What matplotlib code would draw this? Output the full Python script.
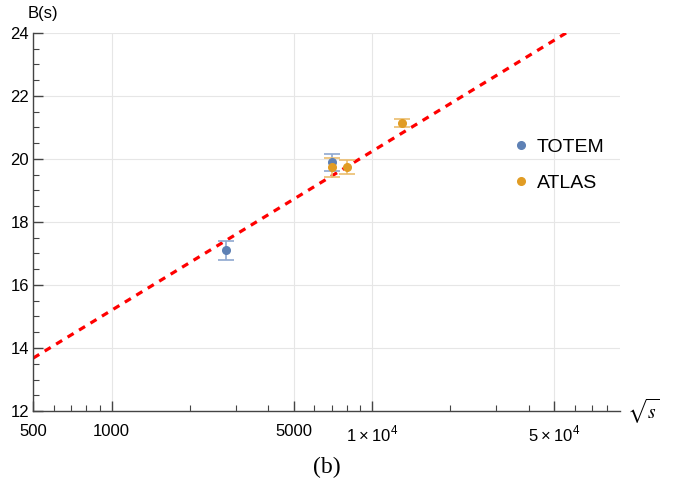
import numpy as np
import matplotlib.pyplot as plt
from matplotlib.ticker import FixedLocator, FixedFormatter, MultipleLocator

# data
totem_x = [2760, 7000]
totem_y = [17.1, 19.89]
totem_err = [0.3, 0.27]

atlas_x = [7000, 8000, 13000]
atlas_y = [19.73, 19.74, 21.14]
atlas_err = [0.29, 0.22, 0.13]

# fit line: B = fit_ref + fit_b1*log10(sqrt(s)/500)
fit_b1 = 5.04
fit_ref = 13.68

xticks = [500, 1000, 5000, 10000, 50000]
xticklabels = ['500', '1000', '5000', r'$1\times10^4$', r'$5\times10^4$']

blue = '#5E81B5'
orange = '#E19C24'

plt.rcParams['font.family'] = ['Liberation Sans', 'DejaVu Sans']
plt.rcParams['mathtext.fontset'] = 'custom'
plt.rcParams['mathtext.rm'] = 'Liberation Sans'

fig = plt.figure(figsize=(6.78, 4.83), dpi=100)
ax = fig.add_axes([0.049, 0.149, 0.866, 0.783])

xs = np.logspace(np.log10(500), np.log10(90000), 200)
ax.plot(xs, fit_ref + fit_b1 * (np.log10(xs) - np.log10(500)), color='red',
        lw=2.3, ls=(0, (2.2, 2.0)), zorder=2)

ax.errorbar(totem_x, totem_y, yerr=totem_err, fmt='none', ecolor='#8fa8cf',
            elinewidth=1.2, capsize=6, capthick=1.2, zorder=3)
ax.errorbar(atlas_x, atlas_y, yerr=atlas_err, fmt='none', ecolor='#ebbd6e',
            elinewidth=1.2, capsize=6, capthick=1.2, zorder=3)
ax.plot(totem_x, totem_y, 'o', color=blue, ms=5.5, zorder=4, label='TOTEM')
ax.plot(atlas_x, atlas_y, 'o', color=orange, ms=5.5, zorder=4, label='ATLAS')

ax.set_xscale('log')
ax.set_xlim(500, 90000)
ax.set_ylim(12, 24)

ax.xaxis.set_major_locator(FixedLocator(xticks))
ax.xaxis.set_major_formatter(FixedFormatter(xticklabels))
minors = [m * 10 ** k for k in [2, 3, 4] for m in range(2, 10)]
minors = [v for v in minors if 500 < v < 90000 and v not in xticks]
ax.xaxis.set_minor_locator(FixedLocator(minors))
ax.xaxis.set_minor_formatter(FixedFormatter([''] * len(minors)))
ax.yaxis.set_major_locator(MultipleLocator(2))
ax.yaxis.set_minor_locator(MultipleLocator(0.5))

for s in ['top', 'right']:
    ax.spines[s].set_visible(False)
for s in ['left', 'bottom']:
    ax.spines[s].set_color('#444444')
    ax.spines[s].set_linewidth(1.0)

ax.tick_params(which='both', direction='in', colors='#444444', labelcolor='black',
               labelsize=12)
ax.tick_params(which='major', length=7, width=1.0)
ax.tick_params(which='minor', length=4, width=0.8)
ax.tick_params(axis='x', pad=9)
ax.tick_params(axis='y', pad=3)

ax.grid(True, which='major', color='#e6e6e6', lw=0.8)
ax.set_axisbelow(True)

ax.text(-0.01, 1.03, 'B(s)', transform=ax.transAxes, fontsize=12, ha='left', va='bottom')
fig.text(0.925, 0.149, r'$\sqrt{s}$', fontsize=14, family='Liberation Serif',
         math_fontfamily='stix', ha='left', va='center')

ax.legend(loc='center left', bbox_to_anchor=(0.795, 0.65), frameon=False,
          fontsize=14, handletextpad=0.2, labelspacing=0.95, markerscale=1.0,
          handlelength=1.2, borderpad=0)

fig.text(0.482, 0.033, '(b)', family='Liberation Serif', fontsize=17,
         ha='center', va='center')

fig.savefig('out.png', dpi=100)
